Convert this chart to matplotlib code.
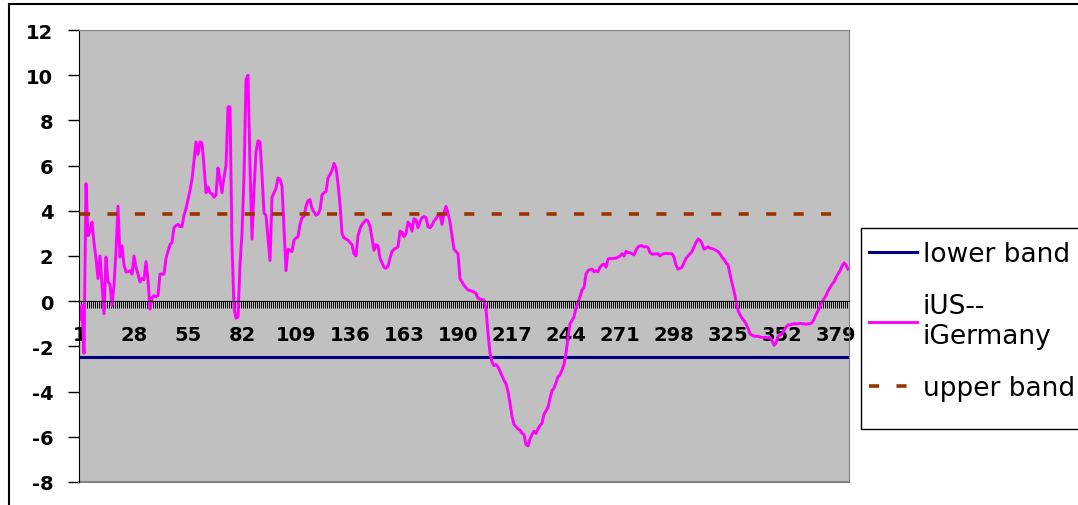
import numpy as np
import matplotlib.pyplot as plt
from matplotlib.lines import Line2D
from matplotlib.patches import Rectangle

plt.rcParams["axes.unicode_minus"] = False

# iUS - iGermany interest differential, one value per period
diff = [
    -0.8, -0.2, -2.3, 5.2, 2.9, 3.1, 3.5, 2.6, 1.9, 1.0,
    2.0, 0.7, -0.55, 1.95, 0.85, 0.75, -0.2, 0.7, 2.2, 4.2,
    1.95, 2.45, 1.6, 1.3, 1.3, 1.35, 1.2, 2.0, 1.5, 1.2,
    0.85, 1.0, 0.95, 1.75, 0.95, -0.35, 0.15, 0.25, 0.2, 0.25,
    1.2, 1.2, 1.2, 1.9, 2.2, 2.5, 2.6, 3.25, 3.35, 3.4,
    3.3, 3.3, 3.8, 4.1, 4.5, 4.9, 5.4, 6.2, 7.05, 6.5,
    7.05, 7.0, 6.0, 4.8, 5.05, 4.8, 4.75, 4.6, 4.7, 5.9,
    5.4, 4.8, 5.5, 6.0, 8.6, 8.6, 2.5, -0.3, -0.75, -0.7,
    1.6, 3.0, 5.5, 9.8, 10.0, 6.0, 2.75, 4.9, 6.6, 7.1,
    7.05, 5.6, 3.9, 3.8, 2.8, 1.8, 4.6, 4.8, 5.0, 5.45,
    5.4, 5.1, 3.2, 1.35, 2.3, 2.25, 2.2, 2.7, 2.8, 2.85,
    3.4, 3.7, 3.75, 4.2, 4.45, 4.5, 4.1, 3.95, 3.8, 3.85,
    4.05, 4.7, 4.8, 4.85, 5.45, 5.6, 5.8, 6.1, 5.9, 5.2,
    4.3, 3.0, 2.8, 2.75, 2.7, 2.6, 2.5, 2.1, 2.0, 2.9,
    3.2, 3.4, 3.5, 3.6, 3.55, 3.3, 2.8, 2.25, 2.5, 2.45,
    1.9, 1.7, 1.5, 1.45, 1.55, 1.9, 2.2, 2.3, 2.35, 2.4,
    3.1, 3.05, 2.85, 3.0, 3.5, 3.4, 3.1, 3.65, 3.6, 3.25,
    3.5, 3.7, 3.75, 3.7, 3.3, 3.25, 3.35, 3.55, 3.65, 3.8,
    3.85, 3.4, 3.9, 4.2, 3.9, 3.5, 2.9, 2.3, 2.2, 2.1,
    1.0, 0.85, 0.7, 0.6, 0.5, 0.47, 0.45, 0.4, 0.35, 0.13,
    0.1, 0.07, 0.05, -0.35, -1.4, -2.3, -2.7, -2.85, -2.8, -2.9,
    -3.1, -3.3, -3.5, -3.65, -4.0, -4.5, -5.1, -5.45, -5.55, -5.65,
    -5.7, -5.85, -5.9, -6.35, -6.4, -6.1, -5.9, -5.75, -5.85, -5.65,
    -5.5, -5.4, -5.0, -4.85, -4.7, -4.3, -3.95, -3.85, -3.6, -3.35,
    -3.25, -3.05, -2.8, -2.3, -1.6, -1.0, -0.85, -0.7, -0.3, -0.05,
    0.2, 0.5, 0.6, 1.2, 1.35, 1.4, 1.42, 1.3, 1.35, 1.3,
    1.5, 1.6, 1.65, 1.5, 1.85, 1.9, 1.88, 1.9, 1.9, 1.95,
    2.0, 2.1, 2.0, 2.2, 2.15, 2.15, 2.1, 2.05, 2.25, 2.4,
    2.45, 2.45, 2.4, 2.42, 2.38, 2.15, 2.08, 2.08, 2.1, 2.1,
    2.0, 2.08, 2.1, 2.12, 2.1, 2.1, 2.1, 1.95, 1.6, 1.42,
    1.45, 1.5, 1.7, 1.9, 2.0, 2.1, 2.2, 2.4, 2.6, 2.75,
    2.7, 2.55, 2.3, 2.35, 2.4, 2.35, 2.32, 2.3, 2.25, 2.2,
    2.1, 1.95, 1.85, 1.7, 1.6, 1.2, 0.8, 0.45, 0.0, -0.4,
    -0.6, -0.75, -0.86, -1.0, -1.2, -1.45, -1.5, -1.55, -1.55, -1.55,
    -1.58, -1.6, -1.6, -1.6, -1.62, -1.6, -1.75, -1.95, -1.85, -1.55,
    -1.5, -1.45, -1.3, -1.15, -1.05, -1.05, -1.02, -1.0, -1.0, -1.0,
    -0.98, -1.0, -1.0, -1.02, -1.0, -1.0, -0.95, -0.8, -0.6, -0.42,
    -0.25, -0.05, 0.1, 0.25, 0.45, 0.6, 0.75, 0.85, 1.05, 1.2,
    1.35, 1.55, 1.7, 1.6, 1.42,
]
n = len(diff)
periods = list(range(1, n + 1))
lower_band = -2.47
upper_band = 3.87
x_labels = list(range(1, n + 1, 27))  # 1, 28, 55, ... 379
y_ticks = list(range(-8, 13, 2))

W, H = 1078, 506
fig = plt.figure(figsize=(W / 100, H / 100), dpi=100)
ax = fig.add_axes([79 / W, 23 / H, 770 / W, 452 / H])
ax.set_facecolor("#c0c0c0")

ax.plot(periods, [lower_band] * n, color="#000080", lw=2.2, label="lower band")
ax.plot(periods, diff, color="#ff00ff", lw=2.1, label="iUS--\niGermany")
ax.plot(periods, [upper_band] * n, color="#993300", lw=2.6,
        dashes=(2.8, 4.8), label="upper band")

ax.set_xlim(0.5, n + 0.5)
ax.set_ylim(-8, 12)

ax.spines["bottom"].set_position(("data", 0))
ax.spines["bottom"].set_color("black")
ax.spines["left"].set_color("black")
ax.spines["top"].set_color("#808080")
ax.spines["right"].set_color("#808080")
ax.axhline(-8, color="#808080", lw=1.5, clip_on=False)

ax.set_yticks(y_ticks)
ax.tick_params(axis="y", direction="out", length=8, width=1, pad=10.5, labelsize=14)
ax.set_xticks(x_labels)
ax.set_xticks(np.arange(0.5, n + 1, 1), minor=True)
ax.tick_params(axis="x", which="major", length=0, pad=17, labelsize=14)
ax.tick_params(axis="x", which="minor", direction="out", length=5, width=0.7)
for lab in ax.get_xticklabels() + ax.get_yticklabels():
    lab.set_fontweight("bold")

leg = fig.legend(loc="upper left", bbox_to_anchor=(856 / W, 1 - 229 / H),
                 frameon=False, fontsize=19, handlelength=1.8, handletextpad=0.23,
                 borderpad=0.5, labelspacing=0.99, borderaxespad=0)

# legend box, running off the right edge as in the original
fig.add_artist(Rectangle((861 / W, 1 - 430 / H), 0.3, 201 / H, fill=False,
                         edgecolor="black", lw=1.0, transform=fig.transFigure))

# outer chart border
fig.add_artist(Line2D([9 / W, 1], [1 - 4.5 / H] * 2, color="black", lw=1.5,
                      transform=fig.transFigure))
fig.add_artist(Line2D([9 / W] * 2, [0, 1 - 4.5 / H], color="black", lw=1.5,
                      transform=fig.transFigure))

fig.savefig("out.png", dpi=100)
